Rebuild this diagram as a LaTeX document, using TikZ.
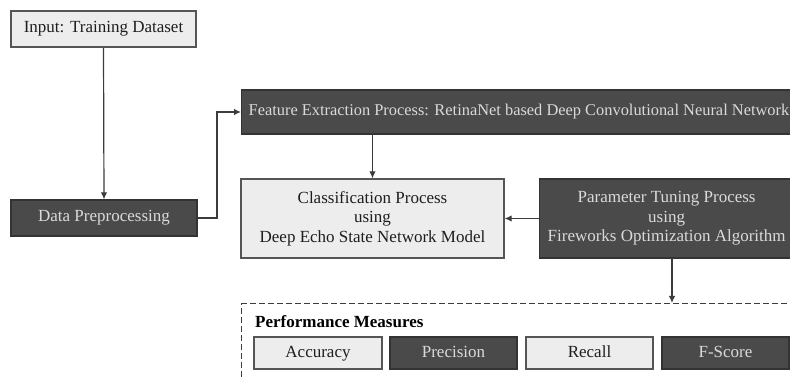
\documentclass[tikz,border=0pt]{standalone}
\usepackage{fontspec}
\setmainfont{Liberation Serif}
\usetikzlibrary{arrows.meta}
\definecolor{darkfill}{HTML}{4A4A4A}
\definecolor{darkline}{HTML}{333333}
\definecolor{lightfill}{HTML}{EDEDED}
\definecolor{lightline}{HTML}{555555}
\definecolor{darktext}{HTML}{1E1E1E}
\definecolor{lighttext}{HTML}{DADADA}
\definecolor{wire}{HTML}{3C3C3C}
\tikzset{
  lightbox/.style={draw=lightline, fill=lightfill, line width=1.3pt, text=darktext, inner sep=0pt, align=center},
  darkbox/.style={draw=darkline, fill=darkfill, line width=1.3pt, text=lighttext, inner sep=0pt, align=center},
  onerow/.style={text height=12pt, text depth=4pt},
  conn/.style={draw=wire, line width=1.2pt, -{Latex[length=7pt,width=6.5pt]}},
  every node/.style={font=\fontsize{17}{19.5}\selectfont}
}
\begin{document}
\begin{tikzpicture}[x=1pt,y=-1pt]
\useasboundingbox (0,0) rectangle (790,379);
\clip (0,0) rectangle (790,379);
\fill[white] (0,0) rectangle (790,379);

\node[lightbox, onerow, minimum width=185pt, minimum height=36pt] (input) at (103.5,29) {Input: Training Dataset};
\node[darkbox, onerow, minimum width=186pt, minimum height=36pt] (prep) at (104,218) {Data Preprocessing};
\node[darkbox, onerow, anchor=west, minimum height=44pt, inner xsep=7pt, font=\fontsize{16.4}{19.5}\selectfont] (feat) at (241,112) {Feature Extraction Process: RetinaNet based Deep Convolutional Neural Network\hspace{20pt}};
\node[lightbox, minimum width=263pt, minimum height=79pt] (cls) at (372.5,218.5) {Classification Process\\using\\Deep Echo State Network Model};
\node[darkbox, anchor=west, minimum width=254pt, minimum height=79pt] (param) at (539,218.5) {Parameter Tuning Process\\using\\Fireworks Optimization Algorithm};
\coordinate (pdown) at (672,258);

\node[draw=wire, dash pattern=on 6pt off 3pt, line width=1.2pt, anchor=north west, minimum width=600pt, minimum height=110pt, inner sep=0pt] (perf) at (241,303) {};
\node[anchor=base west, inner sep=0pt, text=black, font=\fontsize{17}{19.5}\selectfont\bfseries] (ptitle) at (255,328) {Performance Measures};
\node[lightbox, onerow, minimum width=128pt, minimum height=32pt] (acc) at (318,353) {Accuracy};
\node[darkbox, onerow, minimum width=127pt, minimum height=32pt] (prec) at (453.5,353) {Precision};
\node[lightbox, onerow, minimum width=127pt, minimum height=32pt] (rec) at (589.5,353) {Recall};
\node[darkbox, onerow, minimum width=127pt, minimum height=32pt] (fsc) at (725.5,353) {F-Score};

\coordinate (bend1) at (217,218);
\coordinate (bend2) at (217,112);
\draw[conn] (input.south) -- (prep.north);
\draw[conn] (prep.east) -- (bend1) -- (bend2) -- (feat.west);
\draw[conn] (feat.south -| cls.north) -- (cls.north);
\draw[conn] (param.west) -- (cls.east);
\draw[conn] (pdown) -- (pdown |- perf.north);
\end{tikzpicture}
\end{document}
